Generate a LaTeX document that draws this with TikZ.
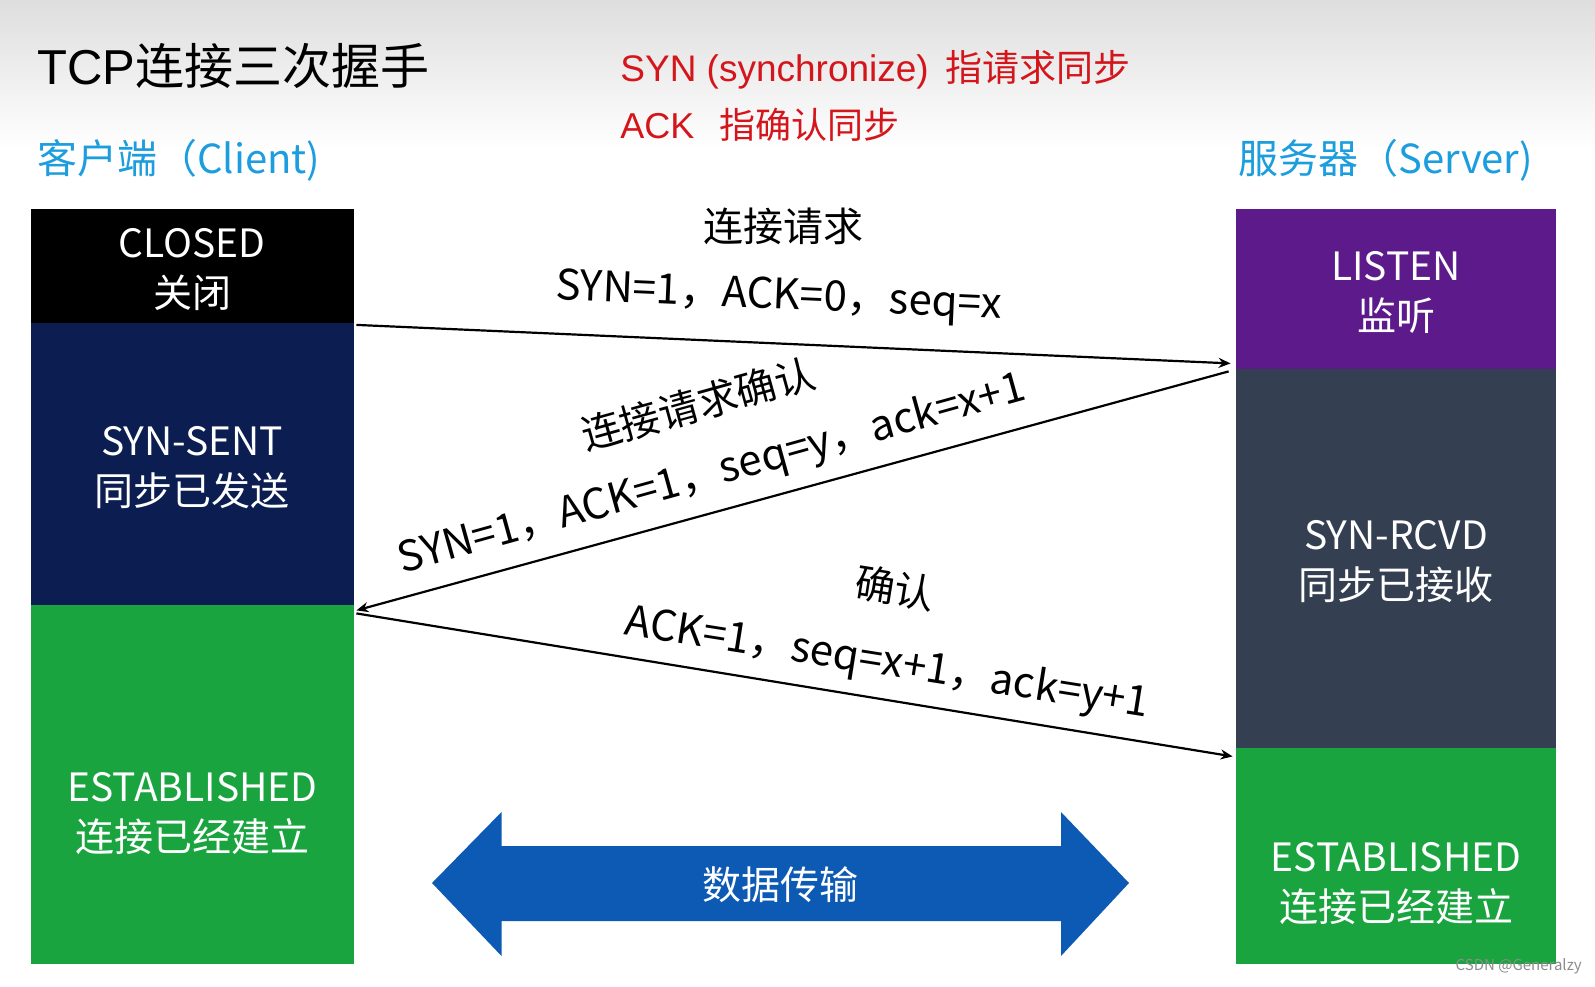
\documentclass[tikz,border=0pt]{standalone}
\usepackage{fontspec}
\setmainfont{Noto Sans CJK SC}
\newfontfamily\arialfont{Liberation Sans}
\usepackage{tikz}
\usetikzlibrary{arrows.meta,calc}

\definecolor{titlered}{RGB}{212,22,28}
\definecolor{sideblue}{RGB}{27,157,222}
\definecolor{closedblack}{RGB}{0,0,0}
\definecolor{sentnavy}{RGB}{11,29,81}
\definecolor{estgreen}{RGB}{26,164,63}
\definecolor{listenpurple}{RGB}{92,26,138}
\definecolor{rcvdslate}{RGB}{52,63,81}
\definecolor{datablue}{RGB}{13,90,180}

\tikzset{
  stbox/.style={rectangle, inner sep=0pt},
  sttext/.style={inner sep=0pt, text=white, align=center, font=\fontsize{19.5}{25}\selectfont},
  msg/.style={-{Stealth[length=6pt,width=5pt]}, line width=1.1pt},
  lbl/.style={inner sep=0pt, font=\fontsize{20}{24}\selectfont},
  lbltext/.style={inner sep=0pt, font=\fontsize{21}{24}\selectfont},
}

\begin{document}
\begin{tikzpicture}[x=0.5pt,y=0.5pt,yscale=-1,xscale=1]
\useasboundingbox (0,0) rectangle (1595,986);

%Shape: Gradient band
\shade [top color=black!13, bottom color=white] (0,0) rectangle (1595,150);

% Text Node
\node [anchor=west][inner sep=0pt] [font=\fontsize{24.5}{28}\selectfont] (title) at (37,66) {{\arialfont TCP}连接三次握手};
% Text Node
\node [anchor=west][inner sep=0pt] [font=\fontsize{18.5}{22}\selectfont, text=titlered] (synnote) at (620,70) {{\arialfont SYN (synchronize)}\hspace{0.45em}指请求同步};
% Text Node
\node [anchor=west][inner sep=0pt] [font=\fontsize{18}{22}\selectfont, text=titlered] (acknote) at (620,125) {{\arialfont ACK}\hspace{0.7em}指确认同步};
% Text Node
\node [anchor=west][inner sep=0pt] [font=\fontsize{20}{24}\selectfont, text=sideblue] (client) at (37,160) {客户端（Client)};
% Text Node
\node [anchor=west][inner sep=0pt] [font=\fontsize{20}{24}\selectfont, text=sideblue] (server) at (1238,160) {服务器（Server)};

%Shape: Client states
\node [stbox, fill=closedblack, minimum width=161.75pt, minimum height=57pt] (closed) at (192.25,265.5) {};
\node [stbox, fill=sentnavy, minimum width=161.75pt, minimum height=141.25pt] (synsent) at (192.25,463.75) {};
\node [stbox, fill=estgreen, minimum width=161.75pt, minimum height=179.5pt] (estclient) at (192.25,784.5) {};
\node [sttext] (closedtext) at (192.25,270) {CLOSED\\关闭};
\node [sttext] (synsenttext) at (192.25,468) {SYN-SENT\\同步已发送};
\node [sttext] (estclienttext) at (192.25,814) {ESTABLISHED\\连接已经建立};

%Shape: Server states
\node [stbox, fill=listenpurple, minimum width=160pt, minimum height=80.25pt] (listen) at (1396,288.75) {};
\node [stbox, fill=rcvdslate, minimum width=160pt, minimum height=189.5pt] (synrcvd) at (1396,558.5) {};
\node [stbox, fill=estgreen, minimum width=160pt, minimum height=108pt] (estserver) at (1396,856) {};
\node [sttext] (listentext) at (1396,292) {LISTEN\\监听};
\node [sttext] (synrcvdtext) at (1396,562) {SYN-RCVD\\同步已接收};
\node [sttext] (estservertext) at (1396,884) {ESTABLISHED\\连接已经建立};

%Straight Lines: handshake
\draw [msg] ($(closed.south east)+(2,2)$) -- ($(listen.south west)+(-5,-6)$);
\draw [msg] ($(listen.south west)+(-7,2)$) -- ($(synsent.south east)+(2,5)$);
\draw [msg] ($(synsent.south east)+(2,8)$) -- ($(synrcvd.south west)+(-3,8)$);

% Text Node
\node [lbl] (reqtitle) at (783,226) {连接请求};
% Text Node
\node [lbltext, rotate=-2.5] (reqtext) at (779,298) {SYN=1，ACK=0，seq=x};
% Text Node
\node [lbl, rotate=15.5] (confirmtitle) at (698,404) {连接请求确认};
% Text Node
\node [lbltext, rotate=15.5] (confirmtext) at (712,475) {SYN=1，ACK=1，seq=y，ack=x+1};
% Text Node
\node [lbl, rotate=-9] (acktitle) at (895,588) {确认};
% Text Node
\node [lbltext, rotate=-9] (acktext) at (887,664) {ACK=1，seq=x+1，ack=y+1};

%Shape: Double Arrow
\fill [datablue] (432,883) -- (501.5,812) -- (501.5,846) -- (1061,846) -- (1061,812) -- (1129,883) -- (1061,956) -- (1061,921) -- (501.5,921) -- (501.5,956) -- cycle;
% Text Node
\node [sttext] (datatext) at (780,885) {数据传输};

% Text Node
\node [anchor=east][inner sep=0pt] [font=\fontsize{7.5}{9}\selectfont, text=black!45] (mark) at (1582,966) {CSDN @Generalzy};

\end{tikzpicture}
\end{document}
